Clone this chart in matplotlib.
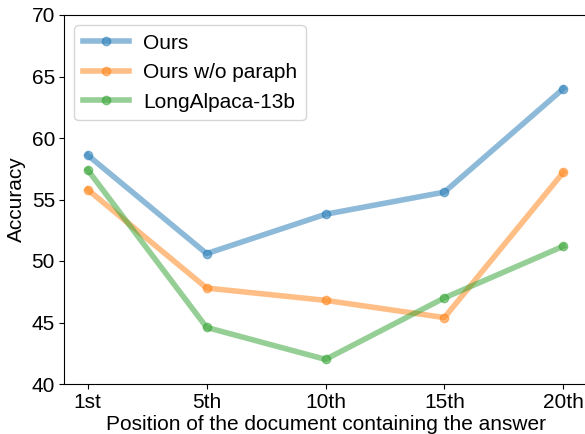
import matplotlib
matplotlib.use('Agg')
import matplotlib.pyplot as plt

plt.rcParams['font.family'] = ['Liberation Sans', 'DejaVu Sans']

positions = ['1st', '5th', '10th', '15th', '20th']
ours = [58.6, 50.6, 53.8, 55.6, 64.0]
ours_no_paraph = [55.8, 47.8, 46.8, 45.4, 57.2]
longalpaca = [57.4, 44.6, 42.0, 47.0, 51.2]

fig = plt.figure(figsize=(5.85, 4.34), dpi=100)
ax = fig.add_axes([64/585, 1-384/434, 523/585, 369/434])

x = range(len(positions))
ax.plot(x, ours, marker='o', lw=4, ms=6, alpha=0.5, label='Ours')
ax.plot(x, ours_no_paraph, marker='o', lw=4, ms=6, alpha=0.5, label='Ours w/o paraph')
ax.plot(x, longalpaca, marker='o', lw=4, ms=6, alpha=0.5, label='LongAlpaca-13b')

ax.set_ylim(40, 70)
ax.set_xlim(-0.2, 4.2)
ax.set_xticks(list(x))
ax.set_xticklabels(positions)
ax.tick_params(labelsize=15, pad=3)
ax.set_xlabel('Position of the document containing the answer', fontsize=15, labelpad=2)
ax.set_ylabel('Accuracy', fontsize=15, labelpad=4)
ax.legend(loc='upper left', fontsize=15, handlelength=2.2, handletextpad=0.7)

fig.savefig('out.png', dpi=100)
